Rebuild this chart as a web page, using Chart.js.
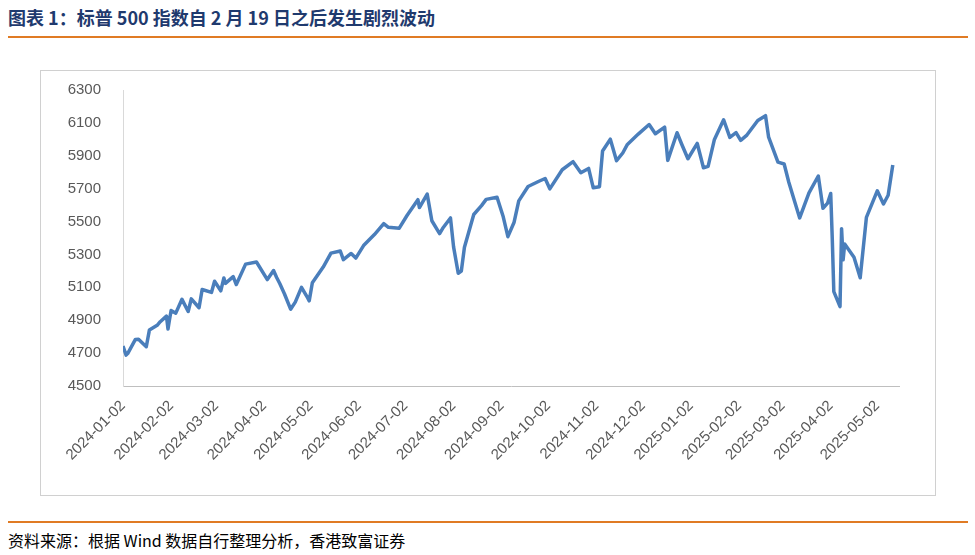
<!DOCTYPE html>
<html><head><meta charset="utf-8">
<script src="https://cdn.jsdelivr.net/npm/chart.js@4"></script>
<style>
body{margin:0;width:975px;height:555px;background:#fff;font-family:"Noto Sans CJK SC",sans-serif;position:relative;overflow:hidden}
#title{position:absolute;left:8px;top:4px;font-size:18px;font-weight:bold;color:#1f3a6e}
#l1{position:absolute;left:8px;top:36px;width:960px;height:2px;background:#e07b24}
#box{position:absolute;left:40px;top:70px;width:894px;height:424px;border:1px solid #d0d0d0}
#cw{position:absolute;left:0;top:-4px}
#l2{position:absolute;left:8px;top:521px;width:960px;height:2px;background:#e07b24}
#src{position:absolute;left:8px;top:528px;font-size:16px;color:#000}
</style></head><body>
<div id="title">图表 1：标普 500 指数自 2 月 19 日之后发生剧烈波动</div>
<div id="l1"></div>
<div id="box"><div id="cw"><canvas id="c" width="894" height="424"></canvas></div></div>
<div id="l2"></div>
<div id="src">资料来源：根据 Wind 数据自行整理分析，香港致富证券</div>
<script>
const dates=["2024-01-02","2024-01-04","2024-01-05","2024-01-10","2024-01-12","2024-01-17","2024-01-19","2024-01-24","2024-01-26","2024-01-30","2024-01-31","2024-02-01","2024-02-02","2024-02-05","2024-02-09","2024-02-13","2024-02-15","2024-02-20","2024-02-22","2024-02-28","2024-03-01","2024-03-05","2024-03-07","2024-03-08","2024-03-13","2024-03-15","2024-03-21","2024-03-28","2024-04-04","2024-04-08","2024-04-10","2024-04-12","2024-04-15","2024-04-19","2024-04-22","2024-04-26","2024-04-30","2024-05-01","2024-05-03","2024-05-10","2024-05-15","2024-05-21","2024-05-23","2024-05-28","2024-05-31","2024-06-05","2024-06-12","2024-06-18","2024-06-21","2024-06-28","2024-07-03","2024-07-10","2024-07-11","2024-07-16","2024-07-19","2024-07-24","2024-07-26","2024-07-31","2024-08-02","2024-08-05","2024-08-07","2024-08-09","2024-08-15","2024-08-20","2024-08-23","2024-08-30","2024-09-03","2024-09-06","2024-09-10","2024-09-13","2024-09-19","2024-09-26","2024-09-30","2024-10-03","2024-10-11","2024-10-18","2024-10-23","2024-10-28","2024-10-31","2024-11-04","2024-11-06","2024-11-11","2024-11-15","2024-11-19","2024-11-22","2024-11-29","2024-12-06","2024-12-10","2024-12-16","2024-12-18","2024-12-24","2024-12-27","2024-12-31","2025-01-06","2025-01-10","2025-01-13","2025-01-17","2025-01-23","2025-01-27","2025-01-31","2025-02-03","2025-02-07","2025-02-14","2025-02-19","2025-02-21","2025-02-27","2025-03-03","2025-03-06","2025-03-10","2025-03-13","2025-03-19","2025-03-25","2025-03-28","2025-03-31","2025-04-02","2025-04-03","2025-04-04","2025-04-08","2025-04-09","2025-04-10","2025-04-11","2025-04-17","2025-04-21","2025-04-25","2025-05-02","2025-05-06","2025-05-09","2025-05-12"];
const closes=[4743,4688,4697,4783,4784,4739,4840,4869,4891,4925,4846,4906,4959,4943,5027,4953,5030,4976,5087,5069,5137,5079,5157,5124,5165,5117,5241,5254,5147,5202,5160,5123,5061,4967,5010,5100,5036,5018,5128,5223,5308,5321,5268,5306,5278,5354,5421,5487,5465,5460,5537,5633,5585,5667,5505,5427,5459,5522,5346,5186,5199,5344,5543,5597,5635,5648,5529,5408,5496,5626,5713,5745,5762,5699,5815,5864,5797,5823,5705,5712,5929,6001,5870,5917,5969,6032,6090,6034,6074,5872,6040,5970,5882,5975,5827,5836,5997,6119,6012,6041,5994,6026,6115,6144,6013,5861,5850,5739,5614,5522,5675,5777,5581,5612,5671,5397,5074,4983,5457,5268,5363,5283,5158,5525,5687,5607,5660,5844];
const monthTicks=["2024-01-02","2024-02-02","2024-03-02","2024-04-02","2024-05-02","2024-06-02","2024-07-02","2024-08-02","2024-09-02","2024-10-02","2024-11-02","2024-12-02","2025-01-02","2025-02-02","2025-03-02","2025-04-02","2025-05-02"];
const yTicks=[4500,4700,4900,5100,5300,5500,5700,5900,6100,6300];
const t0=Date.UTC(2024,0,2);
const dayOf=s=>{const [y,m,d]=s.split("-").map(Number);return (Date.UTC(y,m-1,d)-t0)/864e5;};
const pts=dates.map((d,i)=>({x:dayOf(d),y:closes[i]}));
new Chart(document.getElementById('c'),{type:'line',
data:{datasets:[{data:pts,borderColor:'#4a7ebb',borderWidth:3.5,pointRadius:0,tension:0,borderJoinStyle:'round'}]},
options:{responsive:false,animation:false,plugins:{legend:{display:false},tooltip:{enabled:false}},
layout:{padding:{top:19,right:36,left:0,bottom:0}},
scales:{
x:{type:'linear',min:0,max:500,grid:{display:false},border:{color:'#bfbfbf'},
afterBuildTicks:a=>{a.ticks=monthTicks.map(s=>({value:dayOf(s)}));},
afterFit:a=>{a.height=105;},
ticks:{autoSkip:false,maxRotation:45,minRotation:45,color:'#595959',font:{size:15,family:'Liberation Sans'},
callback:(v)=>{const d=new Date(t0+v*864e5);return d.toISOString().slice(0,10);}}},
y:{min:4500,max:6300,grid:{display:false},border:{color:'#d9d9d9'},
afterBuildTicks:a=>{a.ticks=yTicks.map(v=>({value:v}));},
afterFit:a=>{a.width=82;},
ticks:{padding:14,color:'#595959',font:{size:15,family:'Liberation Sans'},callback:v=>String(v)}}}}});
</script></body></html>
